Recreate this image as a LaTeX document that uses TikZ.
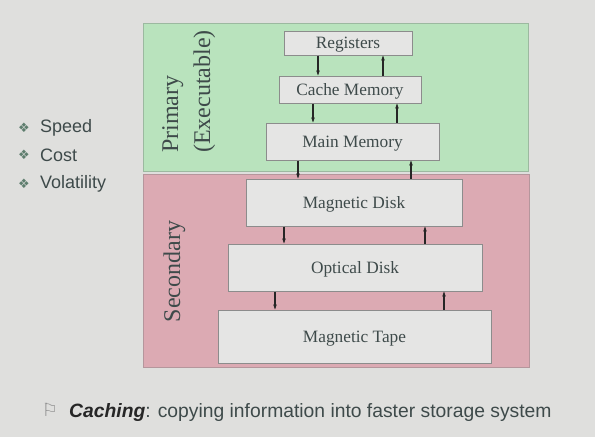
\documentclass[tikz,border=0pt]{standalone}
\usepackage{fontspec}
\setmainfont{Liberation Serif}
\newfontfamily\sansf{Liberation Sans}
\newfontfamily\dejav{DejaVu Sans}
\usetikzlibrary{arrows.meta}
\definecolor{bgc}{HTML}{DFDFDD}
\definecolor{greenf}{HTML}{B9E3BD}
\definecolor{greend}{HTML}{9CB9A0}
\definecolor{pinkf}{HTML}{DCAAB3}
\definecolor{pinkd}{HTML}{B5969C}
\definecolor{boxf}{HTML}{E5E5E4}
\definecolor{boxd}{HTML}{8C8C8C}
\definecolor{txt}{HTML}{3E4A4A}
\definecolor{bul}{HTML}{5E7E6E}
\begin{document}
\begin{tikzpicture}[x=1pt,y=-1pt,
  memb/.style={draw=boxd,fill=boxf,line width=1pt,inner sep=0pt,text=txt,
    text depth=0pt,font=\fontsize{17.3}{20}\selectfont},
  region/.style={line width=1pt},
  arr/.style={line width=1.1pt,draw=black!85,-{Stealth[length=5pt,width=3.5pt]}},
  side/.style={text=txt,font=\fontsize{24}{32}\selectfont,inner sep=0pt,rotate=90},
  bitem/.style={anchor=west,text=txt,inner sep=0pt,font=\sansf\fontsize{18}{20}\selectfont},
  bmark/.style={text=bul,inner sep=0pt,font=\dejav\fontsize{13}{14}\selectfont}
]
\useasboundingbox (0,0) rectangle (595,437);
\fill[bgc] (0,0) rectangle (595,437);
% regions
\draw[region,fill=greenf,draw=greend] (143,23) rectangle (528,171);
\draw[region,fill=pinkf,draw=pinkd] (143,174) rectangle (529,367);
% memory boxes
\node[memb,minimum width=128pt,minimum height=24pt] (reg) at (348,43) {Registers};
\node[memb,minimum width=142pt,minimum height=27pt] (cache) at (350,89.5) {Cache Memory};
\node[memb,minimum width=173pt,minimum height=37pt] (main) at (352.5,141.5) {Main Memory};
\node[memb,minimum width=216pt,minimum height=47pt] (disk) at (354,202.5) {Magnetic Disk};
\node[memb,minimum width=254pt,minimum height=47pt] (opt) at (355,267.5) {Optical Disk};
\node[memb,minimum width=273pt,minimum height=53pt] (tape) at (354.5,336.5) {Magnetic Tape};
% arrows
\draw[arr] ([xshift=-30pt]reg.south) -- ([xshift=-30pt]reg.south |- cache.north);
\draw[arr] ([xshift=35pt]reg.south |- cache.north) -- ([xshift=35pt]reg.south);
\draw[arr] ([xshift=-37pt]cache.south) -- ([xshift=-37pt]cache.south |- main.north);
\draw[arr] ([xshift=47pt]cache.south |- main.north) -- ([xshift=47pt]cache.south);
\draw[arr] ([xshift=-54.5pt]main.south) -- ([xshift=-54.5pt]main.south |- disk.north);
\draw[arr] ([xshift=58.5pt]main.south |- disk.north) -- ([xshift=58.5pt]main.south);
\draw[arr] ([xshift=-70pt]disk.south) -- ([xshift=-70pt]disk.south |- opt.north);
\draw[arr] ([xshift=71pt]disk.south |- opt.north) -- ([xshift=71pt]disk.south);
\draw[arr] ([xshift=-80pt]opt.south) -- ([xshift=-80pt]opt.south |- tape.north);
\draw[arr] ([xshift=89pt]opt.south |- tape.north) -- ([xshift=89pt]opt.south);
% side labels
\node[side,align=left,anchor=north west] (prim) at (162,153) {Primary\\(Executable)};
\node[side] (sec) at (174.5,271.5) {Secondary};
% left bullets
\node[bmark] (b1) at (24,128) {❖};
\node[bitem] (t1) at (40,128) {Speed};
\node[bmark] (b2) at (24,155) {❖};
\node[bitem] (t2) at (40,155) {Cost};
\node[bmark] (b3) at (24,184) {❖};
\node[bitem] (t3) at (40,184) {Volatility};
% bottom line
\node[text=black!45,inner sep=0pt,font=\dejav\fontsize{18}{18}\selectfont] (flag) at (50,410) {⚐};
\node[anchor=base west,inner sep=0pt,text=txt,font=\sansf\fontsize{19.3}{22}\selectfont] (cach) at (69,417)
  {\textcolor{black!85}{\bfseries\itshape Caching}: copying information into faster storage system};
\end{tikzpicture}
\end{document}
